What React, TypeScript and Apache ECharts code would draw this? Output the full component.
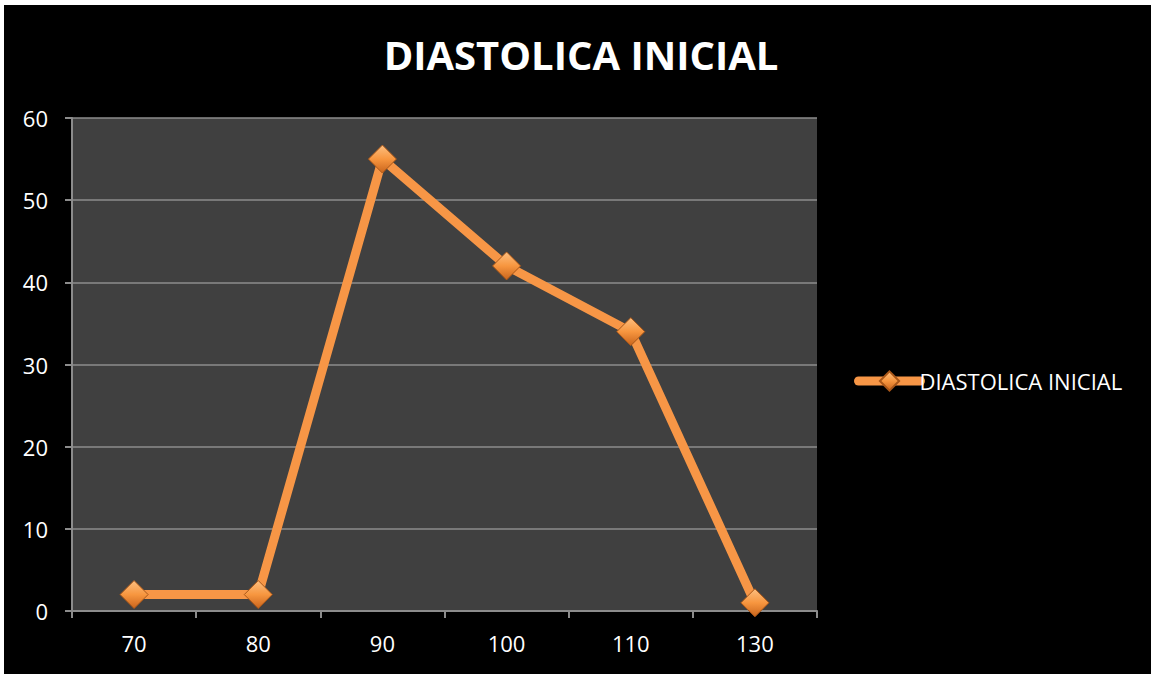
import React, { useEffect, useRef } from "react";
import * as echarts from "echarts";

const categories = ["70", "80", "90", "100", "110", "130"];
const values = [2, 2, 55, 42, 34, 1];
const seriesName = "DIASTOLICA INICIAL";
const titleText = "DIASTOLICA INICIAL";

export default function App() {
  const ref = useRef<HTMLDivElement>(null);

  useEffect(() => {
    document.body.style.margin = "0";
    const chart = echarts.init(ref.current!, null, { renderer: "svg" });
    const markerFill = new echarts.graphic.LinearGradient(0, 0, 0, 1, [
      { offset: 0, color: "#FDBF80" },
      { offset: 0.5, color: "#F7963F" },
      { offset: 1, color: "#C9641C" },
    ]);
    chart.setOption({
      animation: false,
      backgroundColor: "#000000",
      title: {
        text: titleText,
        left: 572,
        textAlign: "center",
        top: 24,
        textStyle: {
          color: "#ffffff",
          fontFamily: "Open Sans",
          fontWeight: "bold",
          fontSize: 40,
        },
      },
      legend: {
        data: [seriesName],
        left: 845,
        top: 360,
        orient: "vertical",
        itemWidth: 62,
        itemHeight: 24,
        itemGap: 4,
        lineStyle: { width: 9, cap: "round" },
        textStyle: {
          color: "#ffffff",
          fontFamily: "Open Sans",
          fontSize: 22,
          padding: [0, 0, 0, -6],
        },
      },
      grid: {
        left: 68,
        top: 113,
        right: 334,
        bottom: 63,
        show: true,
        backgroundColor: "#404040",
        borderWidth: 0,
      },
      xAxis: {
        type: "category",
        data: categories,
        boundaryGap: true,
        axisLine: { lineStyle: { color: "#8c8c8c", width: 2 } },
        axisTick: { show: true, length: 7, lineStyle: { color: "#8c8c8c", width: 2 } },
        axisLabel: {
          color: "#ffffff",
          fontFamily: "Open Sans",
          fontSize: 22,
          margin: 21,
        },
      },
      yAxis: {
        type: "value",
        min: 0,
        max: 60,
        interval: 10,
        axisLine: { show: true, lineStyle: { color: "#8c8c8c", width: 2 } },
        axisTick: { show: true, length: 7, lineStyle: { color: "#8c8c8c", width: 2 } },
        splitLine: { lineStyle: { color: "#8c8c8c", width: 1.5 } },
        axisLabel: {
          color: "#ffffff",
          fontFamily: "Open Sans",
          fontSize: 22,
          margin: 24,
        },
      },
      series: [
        {
          name: seriesName,
          type: "line",
          data: values,
          symbol: "diamond",
          symbolSize: [28, 28],
          lineStyle: { color: "#F79646", width: 9, cap: "round", join: "round" },
          itemStyle: {
            color: markerFill,
            borderColor: "#A85618",
            borderWidth: 1,
          },
        },
      ],
    });
    return () => chart.dispose();
  }, []);

  return (
    <div
      style={{
        position: "fixed",
        left: 0,
        top: 0,
        width: 1151,
        height: 674,
        background: "#ffffff",
      }}
    >
      <div
        ref={ref}
        style={{ position: "absolute", left: 4, top: 5, width: 1147, height: 669 }}
      />
    </div>
  );
}
